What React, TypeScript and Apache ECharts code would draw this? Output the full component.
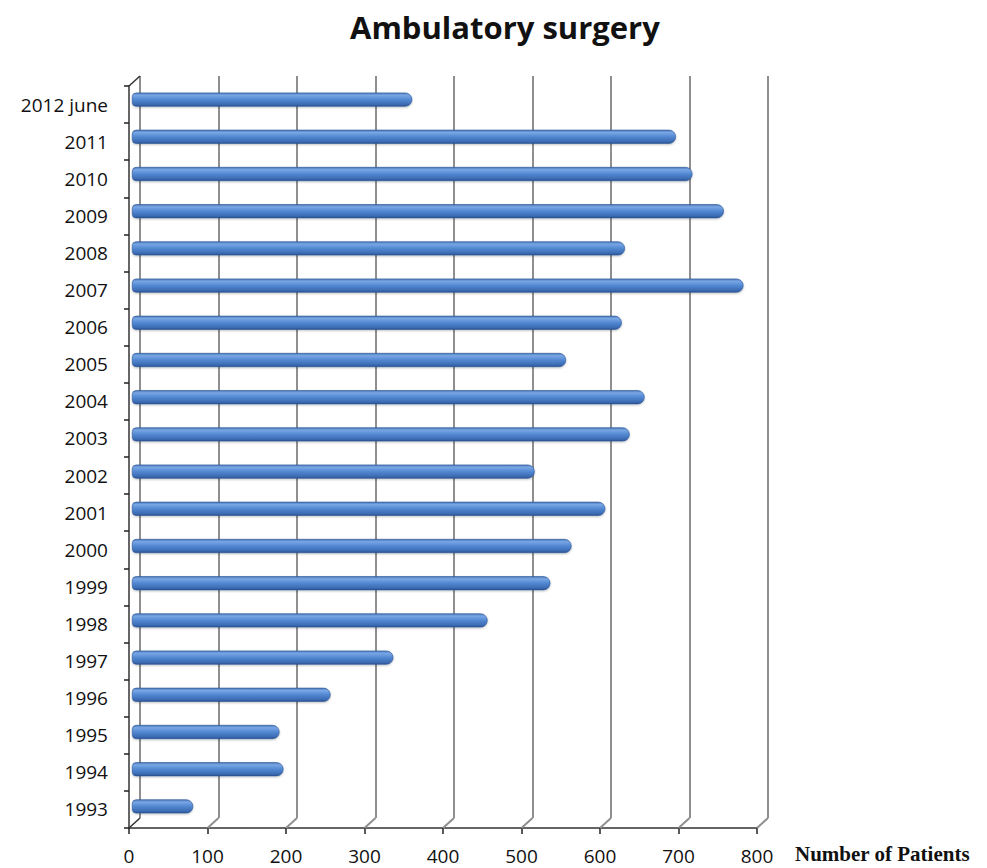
import React, { useEffect, useRef } from "react";
import * as echarts from "echarts";

const categories = [
  "1993", "1994", "1995", "1996", "1997", "1998", "1999", "2000", "2001", "2002",
  "2003", "2004", "2005", "2006", "2007", "2008", "2009", "2010", "2011", "2012 june",
];
const patients = [
  78, 193, 188, 253, 333, 453, 533, 560, 603, 513,
  634, 653, 553, 624, 779, 628, 754, 714, 693, 357,
];
const xMin = 0;
const xMax = 800;
const xInterval = 100;
const xTicks = [0, 100, 200, 300, 400, 500, 600, 700, 800];
const titleText = "Ambulatory surgery";
const xAxisName = "Number of Patients";

const DX = 11; // depth offset (styling)
const DY = 10;

export default function App() {
  const ref = useRef<HTMLDivElement>(null);
  useEffect(() => {
    document.body.style.margin = "0";
    if (!ref.current) return;
    const chart = echarts.init(ref.current, undefined, { renderer: "svg" });
    const labelFont = "'Open Sans', 'DejaVu Sans', sans-serif";
    const barGradient = new echarts.graphic.LinearGradient(0, 0, 0, 1, [
      { offset: 0, color: "#4a78b8" },
      { offset: 0.18, color: "#79a6e4" },
      { offset: 0.5, color: "#5288d2" },
      { offset: 0.85, color: "#3c6cb3" },
      { offset: 1, color: "#2b5291" },
    ]);
    chart.setOption({
      animation: false,
      backgroundColor: "#ffffff",
      title: [
        {
          text: titleText,
          left: 350,
          top: 11,
          padding: 0,
          textStyle: {
            fontFamily: labelFont,
            fontWeight: "bold",
            fontSize: 31,
            color: "#111",
          },
        },
        {
          text: xAxisName,
          left: 795,
          top: 843,
          padding: 0,
          textStyle: {
            fontFamily: "'Liberation Serif', 'Times New Roman', serif",
            fontWeight: "bold",
            fontSize: 21,
            color: "#111",
          },
        },
      ],
      grid: [
        { left: 140, top: 76, width: 628, height: 742 }, // back wall
        { left: 132, top: 81, width: 628, height: 744 }, // bars
        { left: 129, top: 86, width: 628, height: 742 }, // front axes
      ],
      xAxis: [
        {
          gridIndex: 0,
          type: "value",
          min: xMin,
          max: xMax,
          interval: xInterval,
          axisLine: { show: false },
          axisTick: { show: false },
          axisLabel: { show: false },
          splitLine: { show: true, lineStyle: { color: "#8f8f8f", width: 2 } },
        },
        {
          gridIndex: 1,
          type: "value",
          min: xMin,
          max: xMax,
          interval: xInterval,
          show: false,
          splitLine: { show: false },
        },
        {
          gridIndex: 2,
          type: "value",
          min: xMin,
          max: xMax,
          interval: xInterval,
          axisLine: { show: true, lineStyle: { color: "#333", width: 1.5 } },
          axisTick: { show: true, length: 6, lineStyle: { color: "#222", width: 1.5 } },
          axisLabel: {
            show: true,
            margin: 18,
            fontFamily: labelFont,
            fontSize: 19,
            color: "#111",
          },
          splitLine: { show: false },
        },
      ],
      yAxis: [
        {
          gridIndex: 0,
          type: "category",
          data: categories,
          show: false,
        },
        {
          gridIndex: 1,
          type: "category",
          data: categories,
          show: false,
        },
        {
          gridIndex: 2,
          type: "category",
          data: categories,
          axisLine: { show: true, lineStyle: { color: "#333", width: 1.5 } },
          axisTick: { show: true, length: 5, interval: 0, lineStyle: { color: "#222", width: 1.5 } },
          axisLabel: {
            show: true,
            interval: 0,
            margin: 21,
            fontFamily: labelFont,
            fontSize: 19,
            color: "#111",
            padding: [12, 0, 0, 0],
          },
          splitLine: { show: false },
        },
      ],
      series: [
        {
          type: "custom",
          xAxisIndex: 2,
          yAxisIndex: 2,
          clip: false,
          silent: true,
          z: 1,
          data: xTicks.map((v) => [v, 0]),
          renderItem: (params: any, api: any) => {
            const v = api.value(0);
            const p = api.coord([v, 0]);
            const cs = params.coordSys;
            const bottom = cs.y + cs.height;
            const children: any[] = [
              {
                type: "line",
                shape: { x1: p[0], y1: bottom, x2: p[0] + DX, y2: bottom - DY },
                style: { stroke: v === 0 ? "#333" : "#8f8f8f", lineWidth: v === 0 ? 1.5 : 2 },
              },
            ];
            if (v === 0) {
              children.push({
                type: "line",
                shape: { x1: p[0], y1: cs.y, x2: p[0] + DX, y2: cs.y - DY },
                style: { stroke: "#333", lineWidth: 1.5 },
              });
            }
            return { type: "group", children };
          },
        },
        {
          type: "bar",
          xAxisIndex: 1,
          yAxisIndex: 1,
          data: patients,
          barWidth: 14,
          z: 3,
          itemStyle: {
            color: barGradient,
            borderColor: "#2c5597",
            borderWidth: 0.6,
            borderRadius: [4, 7, 7, 4],
            shadowColor: "rgba(0,0,0,0.25)",
            shadowBlur: 2,
            shadowOffsetY: 1,
          },
        },
      ],
    });
    return () => chart.dispose();
  }, []);
  return <div ref={ref} style={{ width: 987, height: 868 }} />;
}
